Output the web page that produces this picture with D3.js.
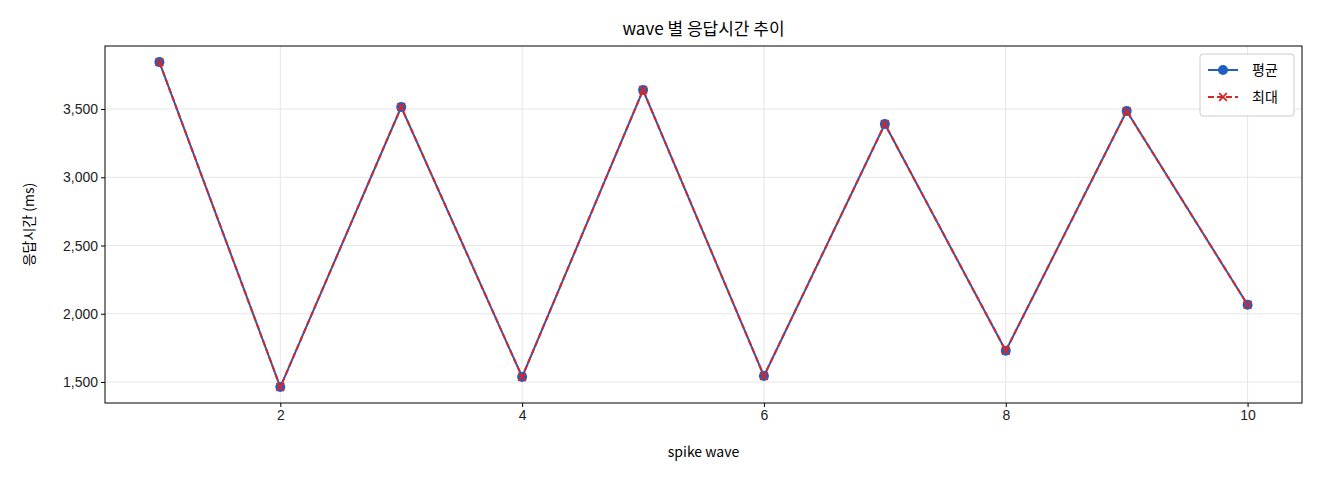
<!DOCTYPE html>
<html><head><meta charset="utf-8">
<script src="https://cdn.jsdelivr.net/npm/d3@7"></script>
<style>body{margin:0;background:#fff;font-family:"Noto Sans CJK KR","Noto Sans",sans-serif}</style>
</head><body><svg id="chart"></svg>
<script>
const waves = [1, 2, 3, 4, 5, 6, 7, 8, 9, 10];
const avgMs = [3844, 1463, 3515, 1537, 3639, 1544, 3390, 1729, 3485, 2066];
const maxMs = [3844, 1463, 3515, 1537, 3639, 1544, 3390, 1729, 3485, 2066];
const xTicks = [2, 4, 6, 8, 10];
const yTicks = [1500, 2000, 2500, 3000, 3500];

const W = 1320, H = 480;
const m = { left: 105, right: 18, top: 46, bottom: 77 };
const svg = d3.select("#chart").attr("width", W).attr("height", H);

const x = d3.scaleLinear().domain([0.55, 10.45]).range([m.left, W - m.right]);
const y = d3.scaleLinear().domain([1346, 3962]).range([H - m.bottom, m.top]);

// grid
svg.append("g").selectAll("line").data(xTicks).join("line")
  .attr("x1", d => x(d)).attr("x2", d => x(d)).attr("y1", m.top).attr("y2", H - m.bottom)
  .attr("stroke", "#e6e6e6");
svg.append("g").selectAll("line").data(yTicks).join("line")
  .attr("y1", d => y(d)).attr("y2", d => y(d)).attr("x1", m.left).attr("x2", W - m.right)
  .attr("stroke", "#e6e6e6");

const xAxis = svg.append("g").attr("transform", `translate(0,${H - m.bottom})`)
  .call(d3.axisBottom(x).tickValues(xTicks).tickSize(4).tickSizeOuter(0));
const yAxis = svg.append("g").attr("transform", `translate(${m.left},0)`)
  .call(d3.axisLeft(y).tickValues(yTicks).tickSize(4).tickSizeOuter(0));
[xAxis, yAxis].forEach(a => {
  a.select(".domain").remove();
  a.selectAll("text").attr("font-size", 14).attr("fill", "#222").style("font-family", "inherit");
});

svg.append("rect").attr("x", m.left).attr("y", m.top)
  .attr("width", W - m.left - m.right).attr("height", H - m.top - m.bottom)
  .attr("fill", "none").attr("stroke", "#000");

const line = d3.line().x((d, i) => x(waves[i])).y(d => y(d));
svg.append("path").datum(avgMs).attr("d", line).attr("fill", "none")
  .attr("stroke", "#1f5fbf").attr("stroke-width", 2);
svg.append("g").selectAll("circle").data(avgMs).join("circle")
  .attr("cx", (d, i) => x(waves[i])).attr("cy", d => y(d)).attr("r", 5).attr("fill", "#1f5fbf");
svg.append("path").datum(maxMs).attr("d", line).attr("fill", "none")
  .attr("stroke", "#d62728").attr("stroke-width", 2).attr("stroke-dasharray", "6,3");
const cross = d3.symbol().type(d3.symbolX).size(40);
svg.append("g").selectAll("path").data(maxMs).join("path")
  .attr("d", cross).attr("transform", (d, i) => `translate(${x(waves[i])},${y(d)})`)
  .attr("fill", "none").attr("stroke", "#d62728").attr("stroke-width", 1.8);

svg.append("text").attr("x", (m.left + W - m.right) / 2).attr("y", 35).attr("text-anchor", "middle")
  .attr("font-size", 17).text("wave 별 응답시간 추이");
svg.append("text").attr("x", (m.left + W - m.right) / 2).attr("y", 457).attr("text-anchor", "middle")
  .attr("font-size", 14).text("spike wave");
svg.append("text").attr("transform", `translate(34,${(m.top + H - m.bottom) / 2}) rotate(-90)`)
  .attr("text-anchor", "middle").attr("font-size", 14).text("응답시간 (ms)");

// legend
const lg = svg.append("g").attr("transform", "translate(1200,54)");
lg.append("rect").attr("width", 94).attr("height", 62).attr("rx", 3)
  .attr("fill", "#fff").attr("stroke", "#ccc");
lg.append("line").attr("x1", 8).attr("x2", 38).attr("y1", 16).attr("y2", 16).attr("stroke", "#1f5fbf").attr("stroke-width", 2);
lg.append("circle").attr("cx", 23).attr("cy", 16).attr("r", 5).attr("fill", "#1f5fbf");
lg.append("text").attr("x", 52).attr("y", 21).attr("font-size", 14).text("평균");
lg.append("line").attr("x1", 8).attr("x2", 38).attr("y1", 43).attr("y2", 43).attr("stroke", "#d62728")
  .attr("stroke-width", 2).attr("stroke-dasharray", "6,3");
lg.append("path").attr("d", cross).attr("transform", "translate(23,43)").attr("fill", "none")
  .attr("stroke", "#d62728").attr("stroke-width", 1.8);
lg.append("text").attr("x", 52).attr("y", 48).attr("font-size", 14).text("최대");
</script></body></html>
